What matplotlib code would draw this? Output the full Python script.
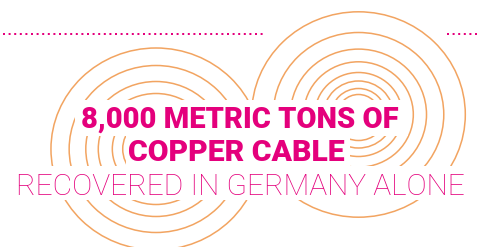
import matplotlib.pyplot as plt
from matplotlib.patches import Ellipse, Rectangle

# Text lines of the infographic
line1 = "8,000 METRIC TONS OF"
line2 = "COPPER CABLE"
line3 = "RECOVERED IN GERMANY ALONE"

# Ripple circles (radius in px), two groups
left_center = (156, 149)
left_radii = [32, 42, 55.5, 67.5, 83.5, 101]
right_center = (358.5, 114.5)
right_radii = [20, 26, 33.5, 42, 52.7, 65.4, 82, 102.7]

MAGENTA = "#E4007C"
ORANGE = "#F2A461"
STRETCH = 1.04

fig = plt.figure(figsize=(4.79, 2.47), dpi=100)
ax = fig.add_axes([0, 0, 1, 1])
ax.set_xlim(0, 479)
ax.set_ylim(247, 0)
ax.axis("off")

# === Circles ===
for center, radii in [(left_center, left_radii), (right_center, right_radii)]:
    for r in radii:
        ax.add_patch(Ellipse(center, 2 * r * STRETCH, 2 * r, fill=False,
                             edgecolor=ORANGE, linewidth=1.1, zorder=1))

# === White boxes behind text ===
for x0, y0, x1, y1 in [(75, 100, 408, 136), (126, 136, 350, 166), (12, 166, 470, 200)]:
    ax.add_patch(Rectangle((x0, y0), x1 - x0, y1 - y0, facecolor="white",
                           edgecolor="none", zorder=2))

# === Dotted line ===
ax.plot([3.5, 263], [34.3, 34.3], color=MAGENTA, linewidth=1.44,
        linestyle=(0, (1, 1.8)), zorder=3)
ax.plot([447, 479], [34.3, 34.3], color=MAGENTA, linewidth=1.44,
        linestyle=(0, (1, 1.8)), zorder=3)

# === Text ===
ax.text(239.5, 127.5, line1, color=MAGENTA, fontsize=21, fontweight="heavy",
        family="Roboto", ha="center", va="baseline", zorder=4)
ax.text(236, 161, line2, color=MAGENTA, fontsize=21.7, fontweight="heavy",
        family="Roboto", ha="center", va="baseline", zorder=4)
ax.text(240, 194.5, line3, color=MAGENTA, fontsize=21.6, fontweight="light",
        family="Roboto", ha="center", va="baseline", zorder=4)

fig.savefig("out.png", dpi=100)
